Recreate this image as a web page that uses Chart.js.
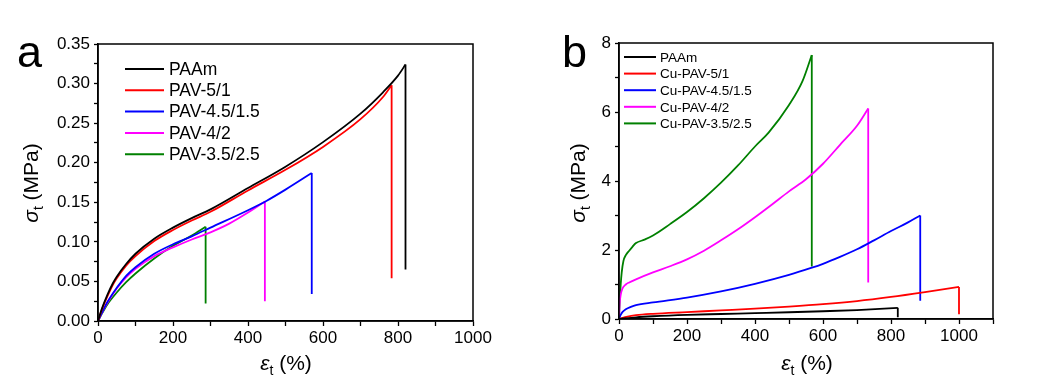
<!DOCTYPE html>
<html>
<head>
<meta charset="utf-8">
<script src="https://cdn.jsdelivr.net/npm/chart.js@4.4.1/dist/chart.umd.min.js"></script>
<style>
  html, body { margin: 0; padding: 0; background: #fff; }
  #wrap { position: relative; width: 1044px; height: 384px; font-family: Arial, 'Liberation Sans', sans-serif; color: #000; }
  .panel { position: absolute; top: 0; width: 522px; height: 384px; }
  .tag { position: absolute; font-size: 45px; line-height: 45px; }
  .ytitle { position: absolute; font-size: 21px; line-height: 21px; white-space: nowrap; transform: translate(-50%, -50%) rotate(-90deg); }
  .xtitle { position: absolute; font-size: 21px; line-height: 21px; white-space: nowrap; transform: translate(-50%, -50%); }
  sub { font-size: 14px; vertical-align: -5px; line-height: 0; }
</style>
</head>
<body>
<div id="wrap">
  <div class="panel" style="left:0"><canvas id="chartA"></canvas></div>
  <div class="panel" style="left:522px"><canvas id="chartB"></canvas></div>
  <div class="tag" style="left:17px; top:29px">a</div>
  <div class="tag" style="left:562px; top:29px">b</div>
  <div class="ytitle" style="left:30px; top:183px"><i>σ</i><sub>t</sub> (MPa)</div>
  <div class="ytitle" style="left:577px; top:183px"><i>σ</i><sub>t</sub> (MPa)</div>
  <div class="xtitle" style="left:286px; top:362px"><i>ε</i><sub>t</sub> (%)</div>
  <div class="xtitle" style="left:807px; top:362px"><i>ε</i><sub>t</sub> (%)</div>
</div>
<script>
const colors = ['#000000', '#ff0000', '#0000ff', '#ff00ff', '#008000'];

// panel a: hydrogels (curve up to break, then stress after the break)
const namesA = ['PAAm', 'PAV-5/1', 'PAV-4.5/1.5', 'PAV-4/2', 'PAV-3.5/2.5'];
const strainA_PAAm = [0, 10, 25, 40, 50, 75, 100, 150, 200, 250, 300, 400, 500, 600, 700, 760, 800, 820];
const stressA_PAAm = [0, 0.015, 0.033, 0.048, 0.056, 0.072, 0.085, 0.104, 0.118, 0.130, 0.141, 0.168, 0.195, 0.226, 0.262, 0.289, 0.310, 0.324];
const strainA_51 = [0, 10, 25, 40, 50, 75, 100, 150, 200, 250, 300, 400, 500, 600, 700, 760, 783];
const stressA_51 = [0, 0.014, 0.031, 0.046, 0.054, 0.070, 0.082, 0.101, 0.115, 0.127, 0.138, 0.165, 0.191, 0.220, 0.255, 0.283, 0.298];
const strainA_4515 = [0, 10, 25, 50, 63, 75, 100, 150, 200, 250, 300, 400, 450, 500, 570];
const stressA_4515 = [0, 0.010, 0.024, 0.042, 0.050, 0.057, 0.068, 0.085, 0.097, 0.107, 0.118, 0.140, 0.152, 0.166, 0.187];
const strainA_42 = [0, 10, 25, 50, 75, 100, 150, 200, 250, 300, 350, 400, 445];
const stressA_42 = [0, 0.010, 0.023, 0.041, 0.055, 0.066, 0.082, 0.093, 0.103, 0.112, 0.123, 0.137, 0.151];
const strainA_3525 = [0, 10, 25, 50, 75, 100, 150, 200, 250, 287];
const stressA_3525 = [0, 0.009, 0.021, 0.036, 0.049, 0.060, 0.079, 0.095, 0.108, 0.119];
const breakA = [0.065, 0.054, 0.034, 0.025, 0.022];

// panel b: Cu-soaked gels
const namesB = ['PAAm', 'Cu-PAV-5/1', 'Cu-PAV-4.5/1.5', 'Cu-PAV-4/2', 'Cu-PAV-3.5/2.5'];
const strainB_PAAm = [0, 50, 100, 200, 300, 400, 500, 600, 700, 820];
const stressB_PAAm = [0, 0.05, 0.08, 0.12, 0.145, 0.17, 0.195, 0.225, 0.26, 0.324];
const strainB_51 = [0, 25, 50, 100, 200, 300, 400, 500, 600, 700, 800, 900, 1000];
const stressB_51 = [0, 0.07, 0.11, 0.15, 0.2, 0.25, 0.3, 0.36, 0.43, 0.52, 0.64, 0.78, 0.93];
const strainB_4515 = [0, 5, 10, 20, 35, 50, 100, 200, 300, 400, 500, 565, 600, 650, 700, 750, 800, 850, 886];
const stressB_4515 = [0, 0.12, 0.2, 0.28, 0.35, 0.4, 0.48, 0.62, 0.8, 1.02, 1.28, 1.48, 1.6, 1.8, 2.02, 2.28, 2.55, 2.8, 3.0];
const strainB_42 = [0, 2, 5, 10, 20, 30, 50, 100, 150, 200, 250, 300, 350, 400, 450, 500, 550, 600, 650, 700, 733];
const stressB_42 = [0, 0.45, 0.7, 0.88, 1.0, 1.06, 1.15, 1.35, 1.53, 1.73, 1.98, 2.28, 2.6, 2.95, 3.32, 3.7, 4.05, 4.5, 5.05, 5.6, 6.1];
const strainB_3525 = [0, 2, 5, 8, 13, 20, 30, 40, 50, 75, 100, 150, 200, 250, 300, 350, 400, 440, 500, 540, 567];
const stressB_3525 = [0, 0.5, 1.0, 1.35, 1.68, 1.85, 1.98, 2.1, 2.2, 2.3, 2.42, 2.75, 3.1, 3.5, 3.95, 4.45, 5.0, 5.4, 6.2, 6.9, 7.65];
const breakB = [0.05, 0.14, 0.53, 1.06, 1.52];

const FONT = "Arial, 'Liberation Sans', sans-serif";

function toPoints(xs, ys) {
  return xs.map((x, i) => ({ x: x, y: ys[i] }));
}

// each sample = smooth curve + straight vertical drop at break
function makeSets(names, pairs, breaks) {
  const sets = [];
  names.forEach((name, i) => {
    const xs = pairs[i][0], ys = pairs[i][1];
    const last = xs.length - 1;
    sets.push({
      label: name,
      data: toPoints(xs, ys),
      borderColor: colors[i],
      borderWidth: 1.8,
      pointRadius: 0,
      showLine: true,
      cubicInterpolationMode: 'monotone'
    });
    sets.push({
      label: name + ' break',
      inLegend: false,
      data: [{ x: xs[last], y: ys[last] }, { x: xs[last], y: breaks[i] }],
      borderColor: colors[i],
      borderWidth: 1.8,
      pointRadius: 0,
      showLine: true
    });
  });
  return sets;
}

// box around the plot area
const framePlugin = {
  id: 'frame',
  afterDraw(chart) {
    const a = chart.chartArea, ctx = chart.ctx;
    ctx.save();
    ctx.strokeStyle = '#000';
    ctx.lineWidth = 1.5;
    ctx.strokeRect(a.left, a.top, a.right - a.left, a.bottom - a.top);
    ctx.restore();
  }
};

// legend placed inside the plot like the original
const boxLegend = {
  id: 'boxLegend',
  afterDraw(chart, args, o) {
    const ctx = chart.ctx;
    ctx.save();
    ctx.font = o.size + 'px ' + FONT;
    ctx.textBaseline = 'middle';
    chart.data.datasets.filter(ds => ds.inLegend !== false).forEach((ds, i) => {
      const y = o.y + i * o.row;
      ctx.strokeStyle = ds.borderColor;
      ctx.lineWidth = 2;
      ctx.beginPath();
      ctx.moveTo(o.x, y);
      ctx.lineTo(o.x + o.len, y);
      ctx.stroke();
      ctx.fillStyle = '#000';
      ctx.fillText(ds.label, o.x + o.len + o.gap, y + 1);
    });
    ctx.restore();
  }
};

function makeChart(id, datasets, xMax, yMax, yStep, yDigits, pad, leg) {
  const ctx = document.getElementById(id).getContext('2d');
  return new Chart(ctx, {
    type: 'scatter',
    data: { datasets },
    options: {
      responsive: true,
      maintainAspectRatio: false,
      animation: false,
      layout: { padding: { left: 0, right: pad.right, top: pad.top, bottom: 0 } },
      plugins: { legend: { display: false }, tooltip: { enabled: false }, boxLegend: leg },
      scales: {
        x: {
          type: 'linear', min: 0, max: xMax,
          afterFit: s => { s.height = pad.xh; },
          border: { display: true, color: '#000', width: 1.5 },
          grid: { drawOnChartArea: false, drawTicks: true, tickLength: 5, tickColor: '#000', tickWidth: 1.3 },
          ticks: {
            stepSize: 100, autoSkip: false, maxRotation: 0, padding: 2,
            color: '#000', font: { family: FONT, size: 17 },
            callback: v => (v % 200 === 0 ? String(v) : '')
          }
        },
        y: {
          type: 'linear', min: 0, max: yMax,
          afterFit: s => { s.width = pad.yw; },
          border: { display: true, color: '#000', width: 1.5 },
          grid: { drawOnChartArea: false, drawTicks: true, tickLength: 4, tickColor: '#000', tickWidth: 1.3 },
          ticks: {
            stepSize: yStep / 2, autoSkip: false, padding: 4,
            color: '#000', font: { family: FONT, size: 17 },
            callback: v => {
              const k = Math.round(v / (yStep / 2));
              return k % 2 === 0 ? v.toFixed(yDigits) : '';
            }
          }
        }
      }
    },
    plugins: [framePlugin, boxLegend]
  });
}

const setsA = makeSets(namesA, [
  [strainA_PAAm, stressA_PAAm], [strainA_51, stressA_51], [strainA_4515, stressA_4515],
  [strainA_42, stressA_42], [strainA_3525, stressA_3525]
], breakA);
const setsB = makeSets(namesB, [
  [strainB_PAAm, stressB_PAAm], [strainB_51, stressB_51], [strainB_4515, stressB_4515],
  [strainB_42, stressB_42], [strainB_3525, stressB_3525]
], breakB);

makeChart('chartA', setsA, 1000, 0.35, 0.05, 2,
  { right: 49, top: 44, xh: 63, yw: 98 },
  { x: 125, y: 69, len: 39, gap: 5, row: 21.3, size: 17.5 });
makeChart('chartB', setsB, 1100, 8, 2, 0,
  { right: 51, top: 43, xh: 65, yw: 97 },
  { x: 102, y: 57, len: 32, gap: 4, row: 16.6, size: 13.5 });
</script>
</body>
</html>
